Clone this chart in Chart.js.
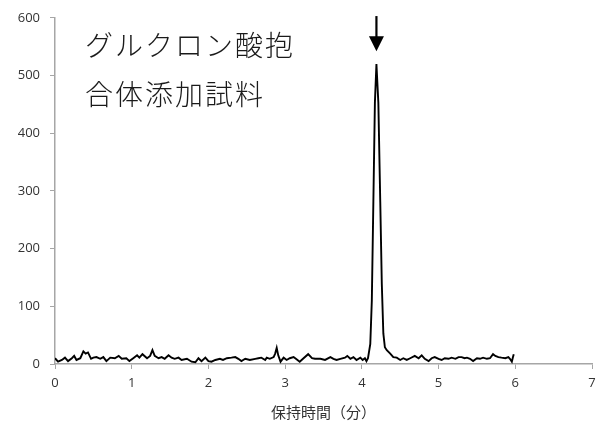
<!DOCTYPE html>
<html>
<head>
<meta charset="utf-8">
<script src="https://cdn.jsdelivr.net/npm/chart.js@4/dist/chart.umd.min.js"></script>
<style>
  html, body { margin: 0; padding: 0; background: #fff; }
  #wrap { width: 606px; height: 428px; }
</style>
</head>
<body>
<div id="wrap"><canvas id="myChart" width="606" height="428"></canvas></div>
<script>
// 保持時間（分）
const tiempos = [0, 0.04, 0.09, 0.13, 0.17, 0.22, 0.25, 0.28, 0.33, 0.37, 0.40, 0.43, 0.47, 0.50, 0.54, 0.59, 0.63, 0.67, 0.72, 0.78,
  0.83, 0.87, 0.93, 0.97, 1.02, 1.07, 1.10, 1.14, 1.20, 1.24, 1.27, 1.30, 1.35, 1.39, 1.43, 1.48, 1.52, 1.56, 1.61, 1.65,
  1.72, 1.78, 1.83, 1.87, 1.91, 1.96, 2.00, 2.04, 2.09, 2.15, 2.19, 2.24, 2.30, 2.35, 2.39, 2.43, 2.48, 2.54, 2.61, 2.65,
  2.69, 2.74, 2.76, 2.80, 2.85, 2.87, 2.89, 2.91, 2.94, 2.98, 3.02, 3.06, 3.11, 3.14, 3.19, 3.24, 3.30, 3.35, 3.39, 3.46,
  3.52, 3.59, 3.63, 3.67, 3.72, 3.78, 3.81, 3.85, 3.89, 3.93, 3.98, 4.01, 4.04, 4.06, 4.08, 4.11, 4.13, 4.15, 4.17, 4.19,
  4.215, 4.24, 4.26, 4.28, 4.30, 4.325, 4.37, 4.41, 4.455, 4.50, 4.54, 4.585, 4.63, 4.69, 4.74, 4.78, 4.82, 4.87, 4.91, 4.95,
  5.00, 5.04, 5.08, 5.13, 5.17, 5.22, 5.26, 5.30, 5.34, 5.37, 5.41, 5.45, 5.50, 5.54, 5.58, 5.63, 5.67, 5.71, 5.74, 5.78,
  5.82, 5.87, 5.91, 5.93, 5.955, 5.97, 5.98]
const senal = [10, 4, 7, 11, 5, 10, 14, 7, 10, 22, 18, 20, 9, 11, 12, 9, 12, 5, 11, 10,
  14, 9, 10, 5, 10, 15, 11, 17, 10, 14, 24, 14, 10, 12, 9, 15, 11, 9, 11, 7,
  9, 4, 3, 10, 5, 11, 5, 4, 7, 9, 7, 10, 11, 12, 9, 5, 9, 7, 9, 10,
  11, 7, 11, 9, 12, 18, 28, 15, 4, 11, 7, 10, 12, 9, 4, 10, 17, 10, 9, 9,
  7, 12, 9, 7, 9, 11, 14, 9, 12, 7, 11, 7, 10, 5, 10, 35, 110, 281, 453, 520,
  453, 281, 139, 53, 29, 24, 18, 12, 11, 7, 10, 7, 10, 14, 10, 15, 9, 5, 10, 12,
  9, 7, 10, 9, 11, 9, 12, 12, 10, 11, 9, 5, 10, 9, 11, 9, 10, 17, 14, 12,
  11, 10, 12, 9, 4, 12, 17]

const etiquetaX = '保持時間（分）'
const anotacion = ['グルクロン酸抱', '合体添加試料']
const picoT = 4.19

const colorEje = '#a6a6a6'
const fuenteTicks = { family: 'Open Sans', size: 13 }

// flecha y texto del gráfico
const extras = {
  id: 'extras',
  afterDatasetsDraw(chart) {
    const { ctx, scales } = chart
    const x = scales.x.getPixelForValue(picoT)
    const punta = scales.y.getPixelForValue(542)
    const base = scales.y.getPixelForValue(568)
    const arriba = scales.y.getPixelForValue(603)
    ctx.save()
    ctx.fillStyle = '#000'
    ctx.strokeStyle = '#000'
    ctx.lineWidth = 2.2
    ctx.beginPath()
    ctx.moveTo(x, arriba)
    ctx.lineTo(x, base + 1)
    ctx.stroke()
    ctx.beginPath()
    ctx.moveTo(x - 7.5, base)
    ctx.lineTo(x + 7.5, base)
    ctx.lineTo(x, punta)
    ctx.closePath()
    ctx.fill()

    ctx.fillStyle = '#1a1a1a'
    ctx.font = '300 28px "Noto Sans CJK JP"'
    ctx.textBaseline = 'middle'
    ctx.textAlign = 'left'
    ctx.letterSpacing = '2px'
    const tx = scales.x.getPixelForValue(0.39)
    ctx.fillText(anotacion[0], tx, 45)
    ctx.fillText(anotacion[1], tx, 94)
    ctx.restore()
  }
}

const config = {
  type: 'line',
  data: {
    datasets: [{
      data: tiempos.map((t, i) => ({ x: t, y: senal[i] })),
      borderColor: '#000',
      borderWidth: 1.9,
      pointRadius: 0,
      tension: 0,
      fill: false
    }]
  },
  options: {
    responsive: false,
    animation: false,
    layout: { padding: { top: 14, right: 14, left: 0, bottom: 0 } },
    plugins: { legend: { display: false }, tooltip: { enabled: false } },
    scales: {
      x: {
        type: 'linear',
        min: 0,
        max: 7,
        ticks: { stepSize: 1, color: '#333', font: fuenteTicks, padding: 6, maxRotation: 0 },
        grid: { drawOnChartArea: false, drawTicks: true, tickLength: 5, color: colorEje },
        border: { color: colorEje, width: 1.5 },
        title: {
          display: true,
          text: etiquetaX,
          color: '#333',
          font: { family: 'Noto Sans CJK JP', size: 15 },
          padding: { top: 4, bottom: 7 }
        },
        afterFit(scale) { scale.height = 64 }
      },
      y: {
        min: 0,
        max: 600,
        ticks: { stepSize: 100, color: '#333', font: fuenteTicks, padding: 10 },
        grid: { drawOnChartArea: false, drawTicks: true, tickLength: 5, color: colorEje },
        border: { color: colorEje, width: 1.5 },
        afterFit(scale) { scale.width = 55 }
      }
    }
  },
  plugins: [extras]
}

const grafico = new Chart(document.getElementById('myChart'), config)
</script>
</body>
</html>
